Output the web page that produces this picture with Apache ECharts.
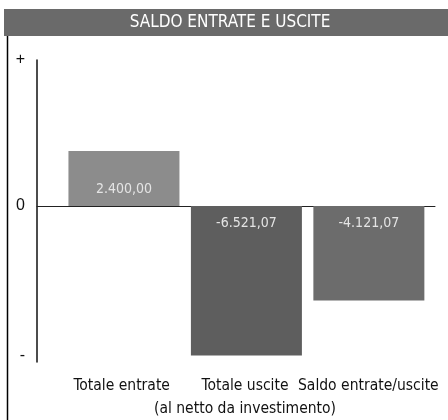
<!DOCTYPE html>
<html><head><meta charset="utf-8">
<script src="https://cdn.jsdelivr.net/npm/echarts@6/dist/echarts.min.js"></script>
<style>html,body{margin:0;padding:0;background:#fff}#c{width:448px;height:420px}</style>
</head><body><div id="c"></div>
<script>
const title = 'SALDO ENTRATE E USCITE';
const categories = ['Totale entrate', 'Totale uscite\n(al netto da investimento)', 'Saldo entrate/uscite'];
const values = [2400.00, -6521.07, -4121.07];
const valueLabels = ['2.400,00', '-6.521,07', '-4.121,07'];
const yTickValues = [6370, 0, -6500];
const yTickLabels = ['+', '0', '-'];
const barColors = ['#8c8c8c', '#5e5e5e', '#6c6c6c'];
const NARROW = '"DejaVu Sans Condensed", "Liberation Sans Narrow", sans-serif';

const chart = echarts.init(document.getElementById('c'), null, {renderer: 'canvas'});
const data = values.map((v, i) => ({
  value: [i, v],
  itemStyle: {color: barColors[i]},
  label: {position: v >= 0 ? 'insideBottom' : 'insideTop', formatter: valueLabels[i]}
}));
chart.setOption({
  animation: false,
  graphic: [
    {type: 'rect', shape: {x: 4, y: 9, width: 444, height: 27}, style: {fill: '#6a6a6a'}},
    {type: 'text', x: 230, y: 23, style: {text: title, fill: '#ffffff', font: '17px ' + NARROW, align: 'center', verticalAlign: 'middle'}},
    {type: 'line', shape: {x1: 7.5, y1: 36, x2: 7.5, y2: 420}, style: {stroke: '#000', lineWidth: 1.5}}
  ],
  grid: [
    {left: 37, right: 13, top: 60, bottom: 58},
    {left: 60, right: 18, top: 60, bottom: 58}
  ],
  xAxis: [
    {type: 'value', gridIndex: 0, min: -0.71, max: 2.54, axisLine: {onZero: true, lineStyle: {color: '#222', width: 1}},
     axisTick: {show: false}, axisLabel: {show: false}, splitLine: {show: false}},
    {type: 'category', gridIndex: 1, data: categories, position: 'bottom', axisLine: {show: false}, axisTick: {show: false},
     splitLine: {show: false},
     axisLabel: {interval: 0, color: '#111', fontSize: 15.5, lineHeight: 23, margin: 22, fontFamily: NARROW}}
  ],
  yAxis: [{
    type: 'value', gridIndex: 0, min: -6800, max: 6370,
    axisLine: {show: true, onZero: false, lineStyle: {color: '#111', width: 1.5}},
    axisTick: {show: false}, splitLine: {show: false},
    axisLabel: {customValues: yTickValues, formatter: v => yTickLabels[yTickValues.indexOf(v)] ?? '',
      color: '#111', fontSize: 16, margin: 12, fontFamily: '"Liberation Sans", sans-serif'}
  }, {
    type: 'value', gridIndex: 1, show: false, min: 0, max: 1
  }],
  series: [{
    type: 'bar', xAxisIndex: 0, yAxisIndex: 0, barWidth: 111, data: data,
    label: {show: true, color: '#e4e4e4', fontSize: 14, distance: 10, fontFamily: NARROW}
  }]
});
</script></body></html>
